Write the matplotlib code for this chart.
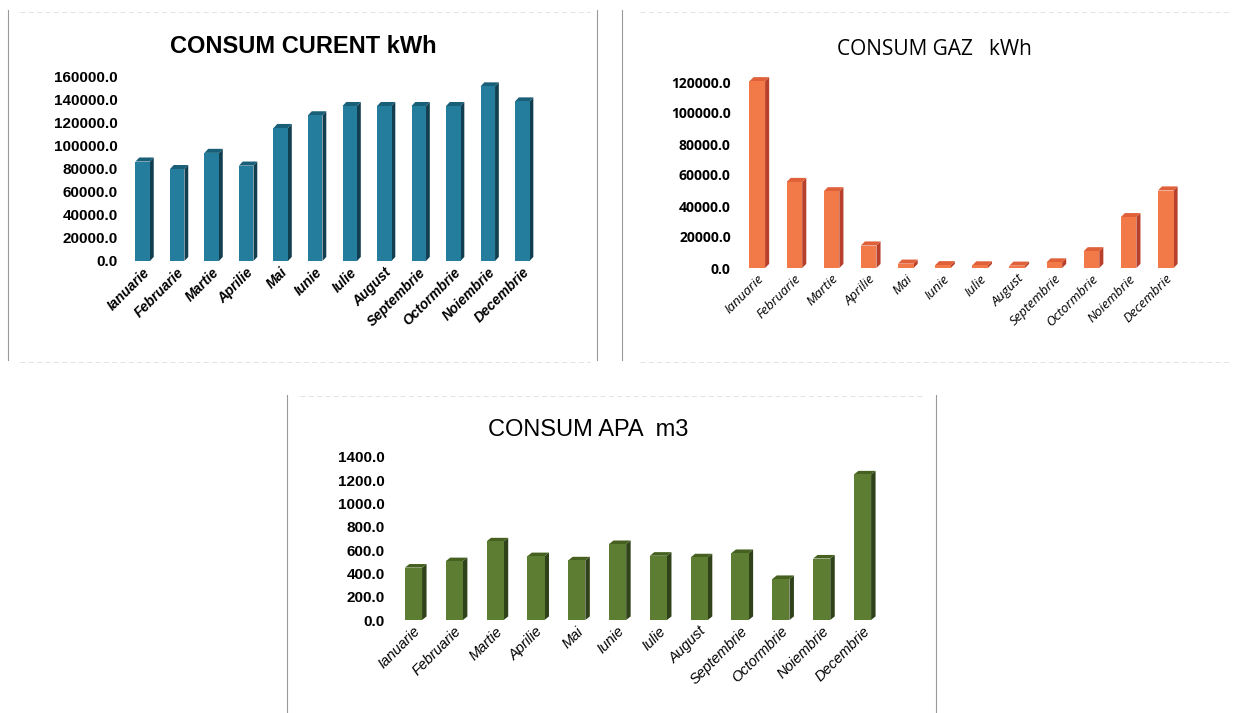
import matplotlib
matplotlib.use("Agg")
import matplotlib.pyplot as plt
from matplotlib.patches import Polygon
from matplotlib.lines import Line2D

luni = ["Ianuarie", "Februarie", "Martie", "Aprilie", "Mai", "Iunie", "Iulie",
        "August", "Septembrie", "Octormbrie", "Noiembrie", "Decembrie"]

curent = [86000, 79500, 93500, 82500, 115000, 126000, 134000, 134000, 134000, 134000, 151000, 138000]
gaz = [120500, 55500, 49500, 14500, 2800, 1800, 1700, 1500, 3600, 10800, 32800, 50000]
apa = [450, 505, 675, 548, 512, 652, 552, 538, 575, 352, 528, 1250]

narrow = ["Liberation Sans Narrow", "Liberation Sans", "DejaVu Sans"]
calib = ["Open Sans", "DejaVu Sans"]


def bars3d(ax, vals, front, side, top, ymax, w=0.42, dx=0.11, dyf=0.022):
    dy = dyf * ymax
    for i, v in enumerate(vals):
        x0, x1 = i - w / 2, i + w / 2
        ax.add_patch(Polygon([(x1, 0), (x1 + dx, dy), (x1 + dx, v + dy), (x1, v)],
                             closed=True, fc=side, ec="none", zorder=2, clip_on=False))
        ax.add_patch(Polygon([(x0, v), (x0 + dx, v + dy), (x1 + dx, v + dy), (x1, v)],
                             closed=True, fc=top, ec="none", zorder=2, clip_on=False))
    ax.bar(range(len(vals)), vals, width=w, color=front, zorder=3, clip_on=False)


def style(ax, title, ymax, step, tfont, tsize, tweight, yfont, ysize, xfont, xsize, xweight,
          title_x, title_y):
    ax.set_xlim(-0.6, len(luni) - 0.4)
    ax.set_ylim(0, ymax)
    for s in ax.spines.values():
        s.set_visible(False)
    ticks = [step * k for k in range(int(round(ymax / step)) + 1)]
    ax.set_yticks(ticks)
    ax.set_yticklabels(["%.1f" % t for t in ticks], family=yfont, fontsize=ysize, fontweight="bold")
    ax.set_xticks(range(len(luni)))
    ax.set_xticklabels(luni, rotation=45, ha="right", rotation_mode="anchor",
                       family=xfont, fontsize=xsize, fontweight=xweight, style="italic")
    ax.tick_params(length=0, pad=3)
    ax.set_title(title, family=tfont, fontsize=tsize, fontweight=tweight, x=title_x, y=title_y)


fig = plt.figure(figsize=(12.41, 7.13), dpi=100)
W, H = 1241, 713


def add_ax(l, t, r, b):
    return fig.add_axes([l / W, 1 - b / H, (r - l) / W, (b - t) / H])


# CURENT
ax1 = add_ax(122, 76, 543, 261)
bars3d(ax1, curent, "#247d9c", "#123f50", "#1a5f78", 160000)
style(ax1, "CONSUM CURENT kWh", 160000, 20000, narrow, 17, "bold", narrow, 11,
      narrow, 10, "bold", 0.43, 1.08)

# GAZ
ax2 = add_ax(735, 82, 1188, 268)
bars3d(ax2, gaz, "#f27a48", "#b8402a", "#e0603a", 120000)
style(ax2, "CONSUM GAZ   kWh", 120000, 20000, calib, 15, "medium", calib, 10,
      calib, 9.5, "normal", 0.44, 1.1)

# APA
ax3 = add_ax(389, 457, 887, 620)
bars3d(ax3, apa, "#5c7d32", "#2f4219", "#46601f", 1400)
style(ax3, "CONSUM APA  m3", 1400, 200, narrow, 17, "normal", narrow, 11,
      narrow, 10.5, "normal", 0.40, 1.08)

# panel borders of the scanned page
for x, y0, y1 in [(8, 10, 360), (597, 10, 360), (622, 10, 360), (287, 395, 713), (936, 395, 713)]:
    fig.add_artist(Line2D([x / W, x / W], [1 - y0 / H, 1 - y1 / H], color="#9a9a9a", lw=0.8))
for x0, x1, y in [(20, 590, 12), (640, 1230, 12), (300, 925, 396), (20, 590, 362), (640, 1230, 362)]:
    fig.add_artist(Line2D([x0 / W, x1 / W], [1 - y / H, 1 - y / H], color="#dddddd", lw=0.6, ls=(0, (6, 4))))

fig.savefig("out.png", dpi=100)
